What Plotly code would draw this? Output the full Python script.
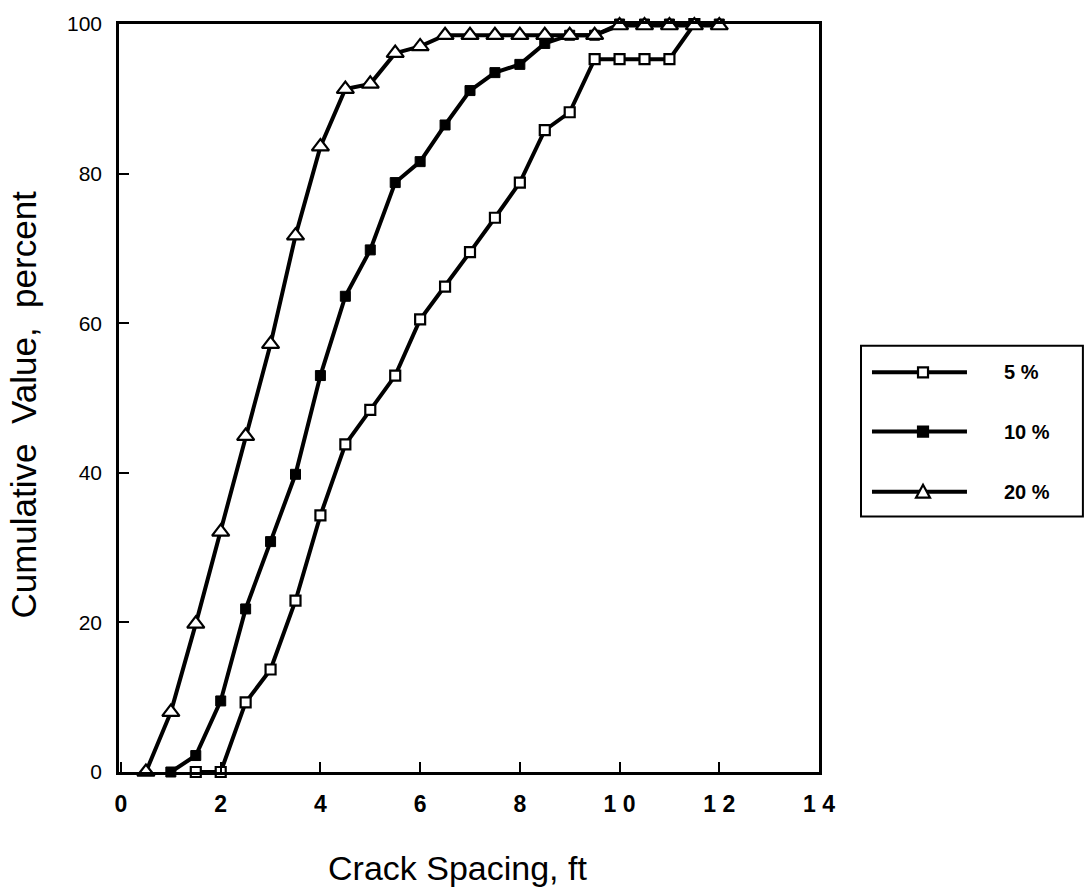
import plotly.graph_objects as go

# Crack spacing (ft) and cumulative distribution (%) for three cracking levels
spacing_5 = [1.5, 2, 2.5, 3, 3.5, 4, 4.5, 5, 5.5, 6, 6.5, 7, 7.5, 8, 8.5, 9, 9.5, 10, 10.5, 11, 11.5]
cum_5 = [0, 0, 9.3, 13.7, 22.9, 34.3, 43.8, 48.4, 53.0, 60.5, 64.9, 69.5, 74.1, 78.8, 85.8, 88.2,
         95.3, 95.3, 95.3, 95.3, 100]

spacing_10 = [1, 1.5, 2, 2.5, 3, 3.5, 4, 4.5, 5, 5.5, 6, 6.5, 7, 7.5, 8, 8.5, 9, 9.5, 10, 10.5, 11, 11.5, 12]
cum_10 = [0, 2.2, 9.5, 21.8, 30.8, 39.8, 53.0, 63.6, 69.8, 78.8, 81.6, 86.5, 91.1, 93.5, 94.6, 97.4,
          98.5, 98.5, 100, 100, 100, 100, 100]

spacing_20 = [0.5, 1, 1.5, 2, 2.5, 3, 3.5, 4, 4.5, 5, 5.5, 6, 6.5, 7, 7.5, 8, 8.5, 9, 9.5, 10, 10.5, 11, 11.5, 12]
cum_20 = [0, 8.0, 19.8, 32.1, 44.9, 57.2, 71.7, 83.6, 91.3, 92.0, 96.1, 97.0, 98.5, 98.5, 98.5, 98.5,
          98.5, 98.5, 98.5, 99.8, 99.8, 99.8, 99.8, 99.8]

series_names = ["5 %", "10 %", "20 %"]

x_tick_vals = [0, 2, 4, 6, 8, 10, 12, 14]
x_tick_text = ["0", "2", "4", "6", "8", "1 0", "1 2", "1 4"]
y_tick_vals = [0, 20, 40, 60, 80, 100]

x_title = "Crack Spacing, ft"
y_title = "Cumulative  Value,  percent"

FONT = "Liberation Sans, Arial, Helvetica, sans-serif"
LINE_W = 4

fig = go.Figure()

fig.add_trace(go.Scatter(
    x=spacing_5, y=cum_5, mode="lines+markers", name=series_names[0],
    line=dict(color="black", width=LINE_W),
    marker=dict(symbol="square", size=10, color="white", line=dict(color="black", width=2.2)),
    cliponaxis=False, showlegend=False,
))
fig.add_trace(go.Scatter(
    x=spacing_10, y=cum_10, mode="lines+markers", name=series_names[1],
    line=dict(color="black", width=LINE_W),
    marker=dict(symbol="square", size=10, color="black", line=dict(color="black", width=1)),
    cliponaxis=False, showlegend=False,
))
fig.add_trace(go.Scatter(
    x=spacing_20, y=cum_20, mode="lines+markers", name=series_names[2],
    line=dict(color="black", width=LINE_W),
    marker=dict(symbol="triangle-up", size=15, color="white", line=dict(color="black", width=2.2)),
    cliponaxis=False, showlegend=False,
))

# Boxed key on the right, drawn with shapes and text annotations
shapes = [dict(type="rect", xref="paper", yref="paper", x0=1.06, x1=1.377, y0=0.3417, y1=0.570,
               line=dict(color="black", width=2), fillcolor="white", layer="below")]
annotations = []
key_rows = [0.5343, 0.4551, 0.3747]
for name, yk, kind in zip(series_names, key_rows, ["open_sq", "filled_sq", "tri"]):
    shapes.append(dict(type="line", xref="paper", yref="paper", x0=1.0757, x1=1.2114, y0=yk, y1=yk,
                       line=dict(color="black", width=LINE_W)))
    if kind == "tri":
        shapes.append(dict(type="path", xref="paper", yref="paper", xsizemode="pixel", ysizemode="pixel",
                           xanchor=1.1486, yanchor=yk, path="M -7,-6 L 7,-6 L 0,7 Z",
                           fillcolor="white", line=dict(color="black", width=2.2)))
    else:
        shapes.append(dict(type="rect", xref="paper", yref="paper", xsizemode="pixel", ysizemode="pixel",
                           xanchor=1.1486, yanchor=yk, x0=-5, x1=5, y0=-5, y1=5,
                           fillcolor="white" if kind == "open_sq" else "black",
                           line=dict(color="black", width=2.2)))
    annotations.append(dict(xref="paper", yref="paper", x=1.2614, y=yk, text=name, showarrow=False,
                            xanchor="left", yanchor="middle",
                            font=dict(family=FONT, size=20, color="black", weight="bold")))

# Axis titles
annotations.append(dict(xref="paper", yref="paper", x=0.484, y=-0.129, text=x_title, showarrow=False,
                        xanchor="center", yanchor="middle",
                        font=dict(family=FONT, size=34, color="black")))
annotations.append(dict(xref="paper", yref="paper", x=-0.136, y=0.491, text=y_title, showarrow=False,
                        textangle=-90, xanchor="center", yanchor="middle",
                        font=dict(family=FONT, size=35, color="black")))

fig.update_layout(
    width=1088, height=895,
    margin=dict(l=119, r=269, t=14, b=123),
    paper_bgcolor="white", plot_bgcolor="white",
    font=dict(family=FONT, color="black"),
    shapes=shapes, annotations=annotations,
    showlegend=False,
)

fig.update_xaxes(
    range=[-0.04, 14], tickvals=x_tick_vals, ticktext=x_tick_text,
    ticks="inside", ticklen=10, tickwidth=2, tickcolor="black",
    showline=True, linewidth=2.5, linecolor="black", mirror=True,
    showgrid=False, zeroline=False,
    tickfont=dict(family=FONT, size=23, color="black", weight="bold"),
    ticklabelstandoff=10,
)
fig.update_yaxes(
    range=[0, 100], tickvals=y_tick_vals,
    ticks="inside", ticklen=10, tickwidth=2, tickcolor="black",
    showline=True, linewidth=2.5, linecolor="black", mirror=True,
    showgrid=False, zeroline=False,
    tickfont=dict(family=FONT, size=21, color="black"),
    ticklabelstandoff=10,
)

fig.write_html("out.html")
